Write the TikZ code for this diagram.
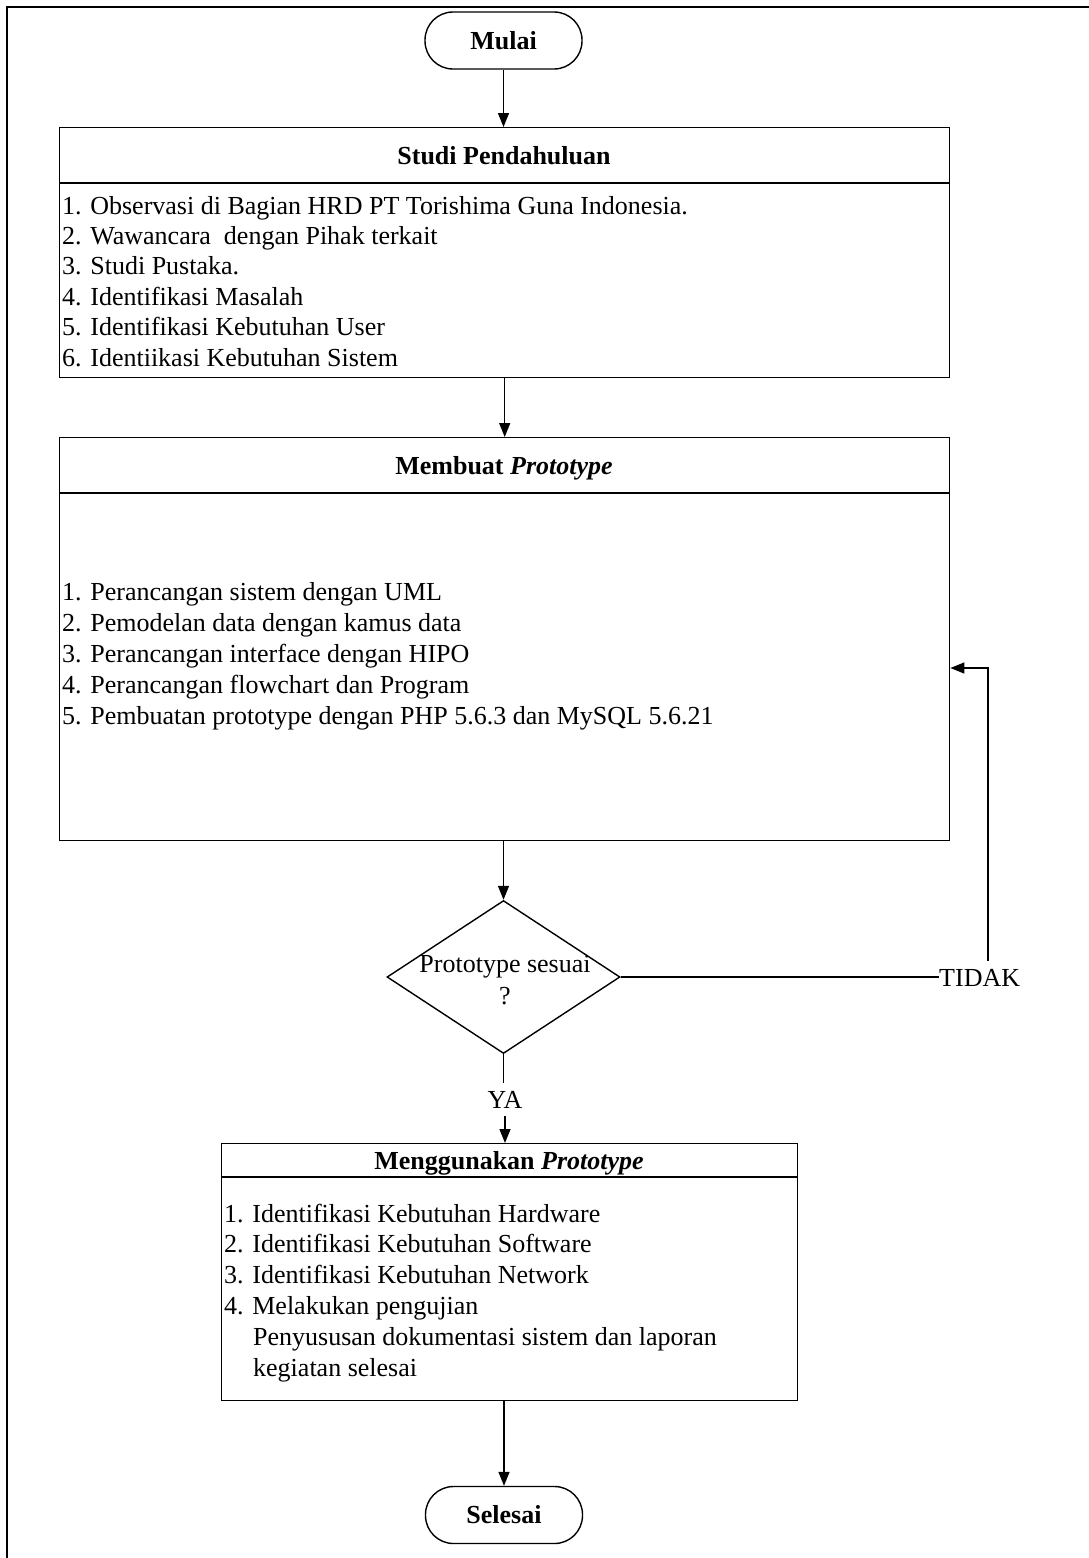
\documentclass[tikz,border=0pt]{standalone}
\usepackage{fontspec}
\setmainfont{Liberation Serif}
\usetikzlibrary{arrows.meta,shapes.geometric}
\newcommand\fs{\fontsize{26}{31}\selectfont}
\tikzset{
  ln/.style={line width=1.4pt},
  arr/.style={ln,-{Triangle[width=11pt,length=14pt]}},
  txt/.style={inner sep=0pt,anchor=base west,font=\fs},
  hdr/.style={inner sep=0pt,anchor=base,font=\fs\bfseries},
  term/.style={draw,line width=1.4pt,rounded corners=28pt,minimum width=157pt,minimum height=57pt,inner sep=0pt,font=\fs\bfseries},
  panel/.style={draw,line width=1.4pt,anchor=north west,inner sep=0pt},
  dec/.style={draw,line width=1.4pt,diamond,inner sep=0pt,minimum width=233pt,minimum height=153pt},
  lbl/.style={inner sep=0pt,anchor=base,font=\fs},
}
\begin{document}
\begin{tikzpicture}[x=1pt,y=-1pt]
\useasboundingbox (0,0) rectangle (1089,1558);
% outer frame (top and left only)
\draw[line width=2.5pt] (7,1558) -- (7,7) -- (1089,7);

% start
\node[term] (mulai) at (503.5,40.5) {Mulai};

% box 1
\node[panel,minimum width=890pt,minimum height=250pt] (b1) at (59,127) {};
\draw[ln] (b1.west |- 0,183) -- (b1.east |- 0,183);
\node[hdr] (h1) at (504,164) {Studi Pendahuluan};
\foreach \t [count=\i] in {1. Observasi di Bagian HRD PT Torishima Guna Indonesia.,
  2. Wawancara\ \ dengan Pihak terkait,
  3. Studi Pustaka.,
  4. Identifikasi Masalah,
  5. Identifikasi Kebutuhan User,
  6. Identiikasi Kebutuhan Sistem}
  \node[txt] (p\i) at (62,{205+9+(\i-1)*30.4}) {\t};

% box 2
\node[panel,minimum width=890pt,minimum height=403pt] (b2) at (59,437) {};
\draw[ln] (b2.west |- 0,493) -- (b2.east |- 0,493);
\node[hdr] (h2) at (504,474) {Membuat \textit{Prototype}};
\foreach \t [count=\i] in {1. Perancangan sistem dengan UML,
  2. Pemodelan data dengan kamus data,
  3. Perancangan interface dengan HIPO,
  4. Perancangan flowchart dan Program,
  5. Pembuatan prototype dengan PHP 5.6.3 dan MySQL 5.6.21}
  \node[txt] (q\i) at (62,{591+9+(\i-1)*31}) {\t};

% decision
\node[dec] (d) at (503.5,977) {};
\node[lbl] (d1) at (505,972) {Prototype sesuai};
\node[lbl] (d2) at (505,1004) {?};
\node[inner sep=0pt,anchor=base west,font=\fs] (tidak) at (939,986) {TIDAK};
\node[inner sep=0pt,inner ysep=8pt,anchor=base,font=\fs] (ya) at (505,1108) {YA};

% box 3
\node[panel,minimum width=576pt,minimum height=257pt] (b3) at (221,1143) {};
\draw[ln] (b3.west |- 0,1177) -- (b3.east |- 0,1177);
\node[hdr] (h3) at (509,1169) {Menggunakan \textit{Prototype}};
\foreach \t/\xx [count=\i] in {1. Identifikasi Kebutuhan Hardware/224,
  2. Identifikasi Kebutuhan Software/224,
  3. Identifikasi Kebutuhan Network/224,
  4. Melakukan pengujian/224,
  Penyususan dokumentasi sistem dan laporan/253,
  kegiatan selesai/253}
  \node[txt] (r\i) at (\xx,{1213+9+(\i-1)*30.8}) {\t};

% end
\node[term] (selesai) at (504,1515) {Selesai};

% connectors
\draw[arr] (mulai.south) -- (mulai.south |- b1.north);
\draw[arr] (b1.south) -- (b1.south |- b2.north);
\draw[arr] (d.north |- b2.south) -- (d.north);
\draw[ln] (d.east) -- (d.east -| tidak.west);
\coordinate (fb) at (988,961);
\draw[arr] (fb) |- (b2.east |- 0,668);
\draw[ln] (d.south) -- (d.south |- ya.north);
\draw[arr] (ya.south) -- (ya.south |- b3.north);
\draw[arr] (selesai.north |- b3.south) -- (selesai.north);
\end{tikzpicture}
\end{document}
